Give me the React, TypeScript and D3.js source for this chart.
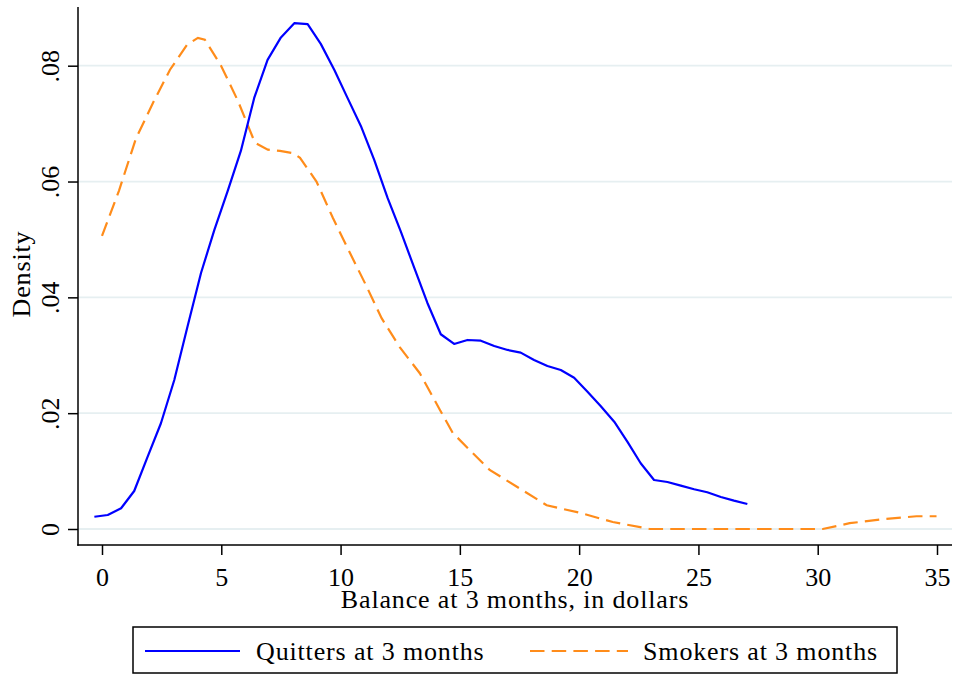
import React, { useEffect, useRef } from "react";
import * as d3 from "d3";

// Kernel density of balance at 3 months: quitters
const quitX = [-0.32, 0.24, 0.8, 1.35, 1.91, 2.47, 3.03, 3.59, 4.15, 4.71, 5.27, 5.82, 6.38, 6.94, 7.5, 8.06, 8.62, 9.17, 9.74, 10.29, 10.85, 11.41, 11.97, 12.53, 13.09, 13.64, 14.2, 14.76, 15.32, 15.88, 16.44, 17.0, 17.55, 18.11, 18.67, 19.23, 19.79, 20.35, 20.9, 21.47, 22.02, 22.58, 23.14, 23.7, 24.26, 24.82, 25.37, 25.94, 26.49, 27.05];
const quitY = [0.00212, 0.00242, 0.00358, 0.00656, 0.01244, 0.01826, 0.02573, 0.03506, 0.04421, 0.05164, 0.05838, 0.06528, 0.07444, 0.081, 0.08489, 0.08734, 0.08717, 0.08377, 0.07927, 0.07444, 0.0696, 0.06373, 0.05717, 0.0513, 0.04508, 0.03903, 0.03363, 0.03195, 0.03264, 0.03252, 0.03161, 0.03092, 0.03045, 0.02919, 0.02815, 0.02746, 0.02613, 0.02371, 0.02124, 0.01853, 0.01508, 0.01135, 0.00846, 0.00812, 0.00748, 0.00686, 0.00634, 0.00553, 0.00489, 0.00432];

// Kernel density of balance at 3 months: smokers
const smokeX = [0, 0.71, 1.42, 2.14, 2.85, 3.56, 4.02, 4.31, 4.99, 5.7, 6.41, 6.95, 7.46, 8.0, 8.3, 8.99, 9.68, 10.39, 11.1, 11.72, 12.48, 13.32, 14.16, 14.7, 15.54, 16.25, 17.39, 18.64, 20.03, 21.41, 22.96, 30.21, 31.34, 32.72, 34.14, 34.98];
const smokeY = [0.0506, 0.0584, 0.0674, 0.0736, 0.0793, 0.0836, 0.0848, 0.0845, 0.08, 0.0739, 0.0667, 0.0655, 0.0653, 0.0649, 0.0641, 0.06, 0.0537, 0.0477, 0.0418, 0.0364, 0.0314, 0.0269, 0.0206, 0.0166, 0.0131, 0.0102, 0.0073, 0.0041, 0.0028, 0.0012, 0, 0, 0.001, 0.0017, 0.0022, 0.0022];

const xTicks = [0, 5, 10, 15, 20, 25, 30, 35];
const yTicks = [0, 0.02, 0.04, 0.06, 0.08];
const yTickLabels = ["0", ".02", ".04", ".06", ".08"];
const seriesNames = ["Quitters at 3 months", "Smokers at 3 months"];
const seriesColors = ["#0000ff", "#ff8c1a"];
const xTitle = "Balance at 3 months, in dollars";
const yTitle = "Density";

const W = 954;
const H = 675;
const FONT = "'Liberation Serif', 'Times New Roman', serif";
const FS = 26;
const LS = "0.85px";

export default function App() {
  const ref = useRef<SVGSVGElement | null>(null);

  useEffect(() => {
    const svg = d3.select(ref.current);
    svg.selectAll("*").remove();

    const plotL = 78, plotR = 952, plotT = 7, plotB = 545;
    const x = d3.scaleLinear().domain([0, 35]).range([102, 937]);
    const y = d3.scaleLinear().domain([0, 0.08]).range([529, 65.7]);

    svg.append("rect").attr("width", W).attr("height", H).attr("fill", "#fff");

    // horizontal gridlines
    svg.append("g")
      .selectAll("line")
      .data(yTicks)
      .join("line")
      .attr("x1", plotL)
      .attr("x2", plotR)
      .attr("y1", (d) => y(d))
      .attr("y2", (d) => y(d))
      .attr("stroke", "#e6eff1")
      .attr("stroke-width", 1.8);

    const clipId = "plot-clip";
    svg.append("clipPath").attr("id", clipId)
      .append("rect").attr("x", plotL).attr("y", plotT)
      .attr("width", plotR - plotL).attr("height", plotB - plotT);

    const line = d3.line<[number, number]>()
      .x((d) => x(d[0]))
      .y((d) => y(d[1]));

    const quit: [number, number][] = quitX.map((v, i) => [v, quitY[i]]);
    const smoke: [number, number][] = smokeX.map((v, i) => [v, smokeY[i]]);

    const curves = svg.append("g").attr("clip-path", `url(#${clipId})`);
    curves.append("path")
      .attr("d", line(smoke))
      .attr("fill", "none")
      .attr("stroke", seriesColors[1])
      .attr("stroke-width", 2.2)
      .attr("stroke-dasharray", "14.5 7.2");
    curves.append("path")
      .attr("d", line(quit))
      .attr("fill", "none")
      .attr("stroke", seriesColors[0])
      .attr("stroke-width", 2.2)
      .attr("stroke-linejoin", "round");

    // x axis
    const gx = svg.append("g").attr("transform", `translate(0,${plotB})`)
      .call(d3.axisBottom(x).tickValues(xTicks).tickSizeInner(10).tickSizeOuter(0).tickFormat(d3.format("d")));
    gx.select(".domain").remove();
    gx.selectAll(".tick line").attr("stroke", "#000").attr("stroke-width", 1.5);
    gx.selectAll(".tick text")
      .attr("y", 40.5).attr("dy", 0)
      .attr("fill", "#000")
      .style("font-family", FONT).style("font-size", `${FS}px`);

    // y axis
    const gy = svg.append("g").attr("transform", `translate(${plotL},0)`)
      .call(d3.axisLeft(y).tickValues(yTicks).tickSizeInner(10).tickSizeOuter(0)
        .tickFormat((d, i) => yTickLabels[i]));
    gy.select(".domain").remove();
    gy.selectAll(".tick line").attr("stroke", "#000").attr("stroke-width", 1.5);
    gy.selectAll(".tick text")
      .attr("x", 0).attr("y", 0).attr("dy", 0)
      .attr("text-anchor", "middle")
      .attr("transform", "translate(-19,0) rotate(-90)")
      .attr("fill", "#000")
      .style("font-family", FONT).style("font-size", `${FS}px`);

    // axis lines
    svg.append("line").attr("x1", plotL).attr("x2", plotL).attr("y1", plotT).attr("y2", plotB + 0.75)
      .attr("stroke", "#000").attr("stroke-width", 1.5);
    svg.append("line").attr("x1", plotL - 0.75).attr("x2", plotR).attr("y1", plotB).attr("y2", plotB)
      .attr("stroke", "#000").attr("stroke-width", 1.5);

    // titles
    svg.append("text")
      .attr("x", 515).attr("y", 608)
      .attr("text-anchor", "middle")
      .style("font-family", FONT).style("font-size", `${FS}px`)
      .style("letter-spacing", LS)
      .text(xTitle);
    svg.append("text")
      .attr("transform", `translate(30,${(plotT + plotB) / 2 - 2}) rotate(-90)`)
      .attr("text-anchor", "middle")
      .style("font-family", FONT).style("font-size", `${FS}px`)
      .style("letter-spacing", LS)
      .text(yTitle);

    // legend
    const lg = svg.append("g");
    lg.append("rect").attr("x", 133).attr("y", 627).attr("width", 764).attr("height", 46)
      .attr("fill", "#fff").attr("stroke", "#000").attr("stroke-width", 1.5);
    const items = [
      { x1: 145, x2: 240, tx: 256, dash: null as string | null },
      { x1: 530, x2: 628, tx: 643, dash: "14.5 7.2" },
    ];
    items.forEach((it, i) => {
      lg.append("line").attr("x1", it.x1).attr("x2", it.x2).attr("y1", 651).attr("y2", 651)
        .attr("stroke", seriesColors[i]).attr("stroke-width", 2.2)
        .attr("stroke-dasharray", it.dash);
      lg.append("text").attr("x", it.tx).attr("y", 660)
        .style("font-family", FONT).style("font-size", `${FS}px`)
        .style("letter-spacing", LS)
        .text(seriesNames[i]);
    });
  }, []);

  return (
    <svg
      ref={ref}
      width={W}
      height={H}
      style={{ position: "absolute", left: 0, top: 0, display: "block" }}
    />
  );
}
